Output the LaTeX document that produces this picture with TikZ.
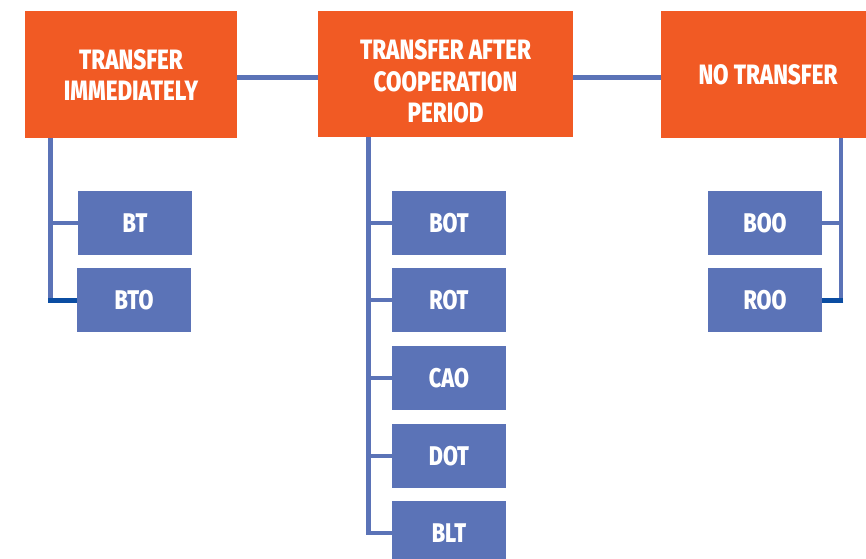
\documentclass[tikz,border=0pt]{standalone}
\usepackage{fontspec}
\setmainfont{Fira Sans}[FakeStretch=0.8, BoldFont={Fira Sans ExtraBold}]
\usetikzlibrary{calc}
\definecolor{headorange}{HTML}{F15A24}
\definecolor{itemblue}{HTML}{5B73B7}
\definecolor{linkblue}{HTML}{5B73B7}
\definecolor{deepblue}{HTML}{0B4DA2}
\tikzset{
  headbox/.style={fill=headorange, draw=none, inner sep=0pt},
  headtext/.style={text=white, align=center, inner sep=0pt,
    font=\bfseries\fontsize{28}{31.5}\selectfont},
  itembox/.style={fill=itemblue, draw=none, text=white, align=center,
    minimum width=114pt, minimum height=64pt, inner sep=0pt,
    font=\bfseries\fontsize{27}{28}\selectfont},
  link/.style={draw=linkblue, line width=4.5pt, line join=miter},
  lastlink/.style={draw=deepblue, line width=5pt},
}
\begin{document}
\begin{tikzpicture}[x=1pt, y=-1pt]
\useasboundingbox (0,0) rectangle (866,558);
\clip (0,0) rectangle (866,558);

% top level: the three transfer options
\node[headbox, minimum width=212pt, minimum height=127pt,
  label={[headtext, yshift=-0.5pt]center:TRANSFER\\IMMEDIATELY}] (imm) at (131,74.5) {};
\node[headbox, minimum width=255pt, minimum height=126pt,
  label={[headtext, yshift=-7.5pt]center:TRANSFER AFTER\\COOPERATION\\PERIOD}] (coop) at (445.5,74) {};
\node[headbox, minimum width=205pt, minimum height=127pt,
  label={[headtext, xshift=4.5pt]center:NO TRANSFER}] (none) at (763.5,74.5) {};

% contract types under each option
\node[itembox] (bt)  at (135,223) {BT};
\node[itembox] (bto) at (134,300) {BTO};

\node[itembox] (bot) at (449,223) {BOT};
\node[itembox] (rot) at (449,300) {ROT};
\node[itembox] (cao) at (449,378) {CAO};
\node[itembox] (dot) at (449,456) {DOT};
\node[itembox] (blt) at (449,533) {BLT};

\node[itembox] (boo) at (765,223) {BOO};
\node[itembox] (roo) at (765,300) {ROO};

% links between the top-level boxes
\draw[link] ([yshift=-3.2pt]imm.east) -- ([yshift=-3.2pt]coop.west |- imm.east);
\draw[link] ([yshift=-3.2pt]coop.east |- imm.east) -- ([yshift=-3.2pt]none.west);

% left tree
\coordinate (lt) at ($(imm.south west)+(25.5,0)$);
\draw[link] (lt) -- (lt |- bto.west);
\draw[link] (lt |- bt.west) -- (bt.west);
\draw[lastlink] ([xshift=-2.25pt]lt |- bto.west) -- (bto.west);

% middle tree
\coordinate (mt) at ($(coop.south west)+(50.5,0)$);
\draw[link] (mt) |- (blt.west);
\foreach \n in {bot,rot,cao,dot}
  \draw[link] (mt |- \n.west) -- (\n.west);

% right tree
\coordinate (rt) at ($(none.south east)+(-25,0)$);
\draw[link] (rt) -- (rt |- roo.east);
\draw[link] (rt |- boo.east) -- (boo.east);
\draw[lastlink] ([xshift=2.25pt]rt |- roo.east) -- (roo.east);
\end{tikzpicture}
\end{document}
